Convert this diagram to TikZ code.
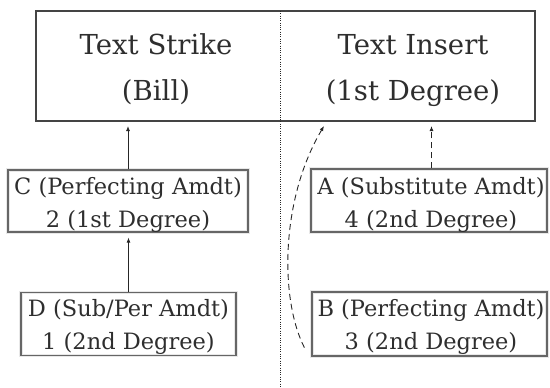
\documentclass[tikz,border=0pt]{standalone}
\usepackage{fontspec}
\setmainfont{DejaVu Serif}
\usetikzlibrary{arrows.meta}
\definecolor{ink}{HTML}{2E2E2E}
\definecolor{frame}{HTML}{444444}
\definecolor{boxline}{HTML}{666666}
\begin{document}
\begin{tikzpicture}[x=1pt,y=-1pt,
  bigbox/.style={draw=frame,line width=2pt,minimum width=499pt,minimum height=110pt,inner sep=0pt},
  amdbox/.style={draw=boxline,line width=1.2pt,inner sep=0pt,
    preaction={draw=black!9,line width=3.6pt}},
  bigtxt/.style={font=\fontsize{27.5}{33}\selectfont,text=ink,inner sep=0pt,anchor=base},
  smalltxt/.style={font=\fontsize{22.5}{27}\selectfont,text=ink,inner sep=0pt,anchor=base},
  link/.style={draw=black!85,line width=0.9pt,-{Latex[length=5pt,width=4pt]}},
  dashlink/.style={link,dash pattern=on 6pt off 4pt},
  divider/.style={draw=black!85,line width=1pt,dash pattern=on 1pt off 1.3pt}]
\useasboundingbox (0,0) rectangle (550,388);

% main box with the two halves
\node[bigbox] (top) at (285.5,66) {};
\node[bigtxt] (strike1) at (156,55) {Text Strike};
\node[bigtxt] (strike2) at (156,100) {(Bill)};
\node[bigtxt] (insert1) at (413,55) {Text Insert};
\node[bigtxt] (insert2) at (413,100) {(1st Degree)};

% divider between strike and insert
\coordinate (divtop) at (280,11);
\coordinate (divbot) at (280,388);
\draw[divider] (divtop) -- (divbot);

% amendment boxes
\node[amdbox,minimum width=240pt,minimum height=62pt] (C) at (128,201) {};
\node[smalltxt] at (128,194) {C (Perfecting Amdt)};
\node[smalltxt] at (128,227) {2 (1st Degree)};

\node[amdbox,minimum width=215pt,minimum height=63pt] (D) at (128.5,324) {};
\node[smalltxt] at (128.5,316) {D (Sub/Per Amdt)};
\node[smalltxt] at (128.5,349) {1 (2nd Degree)};

\node[amdbox,minimum width=236pt,minimum height=63pt] (A) at (429,200.5) {};
\node[smalltxt] at (431,194) {A (Substitute Amdt)};
\node[smalltxt] at (431,227) {4 (2nd Degree)};

\node[amdbox,minimum width=235pt,minimum height=64pt] (B) at (429.5,324) {};
\node[smalltxt] at (431,316) {B (Perfecting Amdt)};
\node[smalltxt] at (431,349) {3 (2nd Degree)};

% connectors
\draw[link,shorten >=4pt] (C.north) -- (C.north |- top.south);
\draw[link,shorten >=5pt] (D.north) -- (D.north |- C.south);
\draw[dashlink,shorten >=4pt] ([xshift=2.5pt]A.north) -- ([xshift=2.5pt]A.north |- top.south);
\draw[dashlink] ([shift={(-7pt,9pt)}]B.south west)
  .. controls (280,300) and (280,200) .. ([shift={(38.5pt,-4pt)}]top.south);
\end{tikzpicture}
\end{document}
